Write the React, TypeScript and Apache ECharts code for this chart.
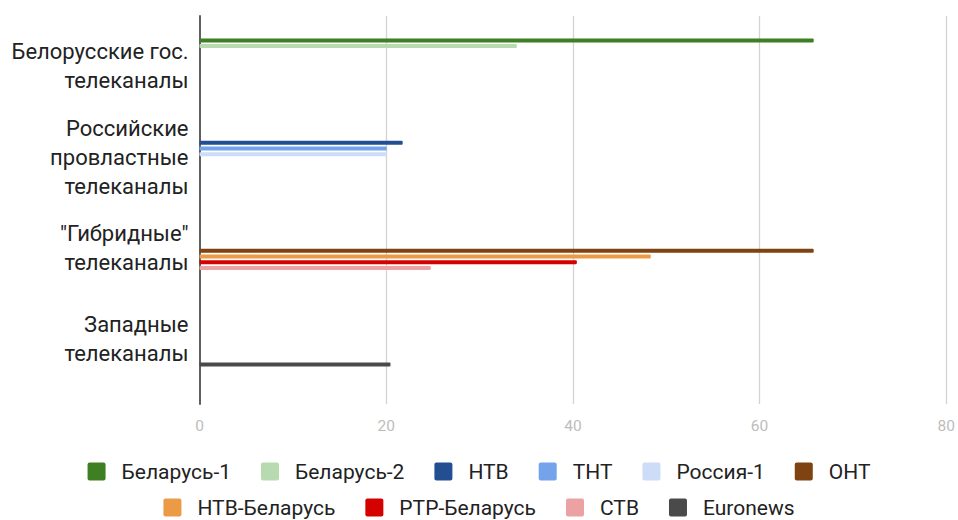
import React, { useEffect, useRef } from "react";
import * as echarts from "echarts";

const categories = [
  "Белорусские гос.\nтелеканалы",
  "Российские\nпровластные\nтелеканалы",
  "\"Гибридные\"\nтелеканалы",
  "Западные\nтелеканалы",
];

const seriesNames = [
  "Беларусь-1",
  "Беларусь-2",
  "НТВ",
  "ТНТ",
  "Россия-1",
  "ОНТ",
  "НТВ-Беларусь",
  "РТР-Беларусь",
  "СТВ",
  "Euronews",
];

const seriesColors = [
  "#3f7f23",
  "#b8dab0",
  "#234f92",
  "#74a3ec",
  "#cddcf7",
  "#7f4312",
  "#eb9b45",
  "#d50000",
  "#eca2a2",
  "#4a4a4a",
];

const belarus1 = [65.6, null, null, null];
const belarus2 = [33.9, null, null, null];
const ntv = [null, 21.7, null, null];
const tnt = [null, 20.0, null, null];
const russia1 = [null, 20.0, null, null];
const ont = [null, null, 65.6, null];
const ntvBelarus = [null, null, 48.2, null];
const rtrBelarus = [null, null, 40.3, null];
const stv = [null, null, 24.7, null];
const euronews = [null, null, null, 20.4];

const seriesValues = [belarus1, belarus2, ntv, tnt, russia1, ont, ntvBelarus, rtrBelarus, stv, euronews];

const xMin = 0;
const xMax = 80;
const xInterval = 20;

export default function App() {
  const ref = useRef<HTMLDivElement>(null);

  useEffect(() => {
    document.body.style.margin = "0";
    if (!ref.current) return;
    const chart = echarts.init(ref.current, null, { renderer: "svg" });
    const font = "Roboto, 'Noto Sans', sans-serif";
    const plotLeft = 199.5;
    const plotWidth = 749;

    const legendBase = {
      left: "center",
      orient: "horizontal",
      icon: "path://M2,0H16A2,2,0,0,1,18,2V16A2,2,0,0,1,16,18H2A2,2,0,0,1,0,16V2A2,2,0,0,1,2,0Z",
      itemWidth: 18,
      itemHeight: 18,
      itemGap: 30,
      textStyle: { fontSize: 21, color: "#222", fontFamily: font, padding: [0, 0, 0, 11] },
      selectedMode: false,
    };

    chart.setOption({
      animation: false,
      backgroundColor: "#fff",
      color: seriesColors,
      grid: [
        { left: plotLeft, width: plotWidth, top: 20.5, height: 364, containLabel: false },
        { left: plotLeft, width: plotWidth, top: 16, height: 388, containLabel: false },
      ],
      legend: [
        { ...legendBase, top: 456, data: seriesNames.slice(0, 6) },
        { ...legendBase, top: 492, data: seriesNames.slice(6) },
      ],
      xAxis: [
        {
          type: "value",
          gridIndex: 0,
          min: xMin,
          max: xMax,
          interval: xInterval,
          show: false,
        },
        {
          type: "value",
          gridIndex: 1,
          min: xMin,
          max: xMax,
          interval: xInterval,
          axisLine: { show: false },
          axisTick: { show: false },
          axisLabel: { color: "#bdbdbd", fontSize: 15.5, fontFamily: font, margin: 14 },
          splitLine: { show: true, showMinLine: false, lineStyle: { color: "#d3d3d3", width: 1.3 } },
        },
      ],
      yAxis: [
        {
          type: "category",
          gridIndex: 0,
          data: categories,
          inverse: true,
          axisLine: { show: false },
          axisTick: { show: false },
          splitLine: { show: false },
          axisLabel: {
            color: "#222",
            fontSize: 22,
            fontFamily: font,
            lineHeight: 29,
            margin: 11,
            align: "right",
          },
        },
        {
          type: "value",
          gridIndex: 1,
          min: 0,
          max: 1,
          axisLine: { show: true, onZero: false, lineStyle: { color: "#5f5f5f", width: 2 } },
          axisTick: { show: false },
          axisLabel: { show: false },
          splitLine: { show: false },
        },
      ],
      series: seriesNames.map((name, i) => ({
        name,
        type: "bar",
        xAxisIndex: 0,
        yAxisIndex: 0,
        data: seriesValues[i],
        barWidth: 4,
        barGap: "42%",
        itemStyle: { color: seriesColors[i], borderRadius: 1 },
      })),
    });

    return () => chart.dispose();
  }, []);

  return <div ref={ref} style={{ width: 958, height: 520 }} />;
}
